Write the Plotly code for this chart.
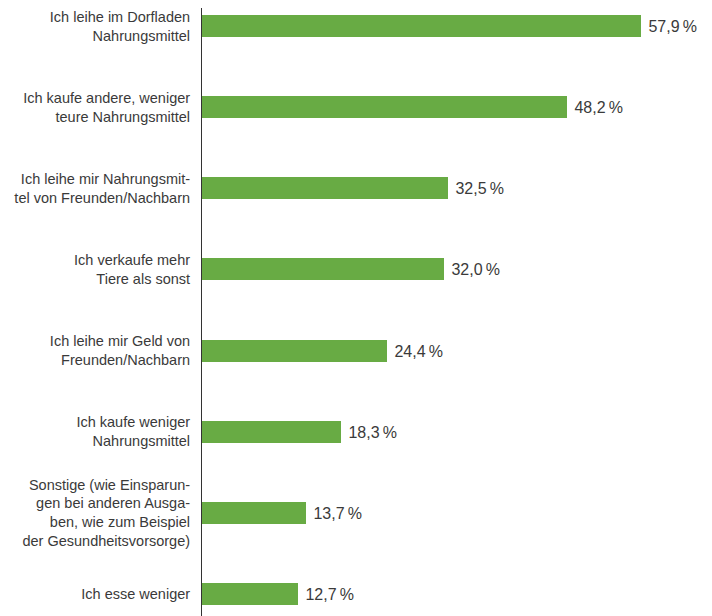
import plotly.graph_objects as go

labels = [
    "Ich leihe im Dorfladen<br>Nahrungsmittel",
    "Ich kaufe andere, weniger<br>teure Nahrungsmittel",
    "Ich leihe mir Nahrungsmit-<br>tel von Freunden/Nachbarn",
    "Ich verkaufe mehr<br>Tiere als sonst",
    "Ich leihe mir Geld von<br>Freunden/Nachbarn",
    "Ich kaufe weniger<br>Nahrungsmittel",
    "Sonstige (wie Einsparun-<br>gen bei anderen Ausga-<br>ben, wie zum Beispiel<br>der Gesundheitsvorsorge)",
    "Ich esse weniger",
]
values = [57.9, 48.2, 32.5, 32.0, 24.4, 18.3, 13.7, 12.7]

positions = list(range(len(labels)))
texts = ["\u00a0" + f"{v:.1f}".replace(".", ",") + "\u2009%" for v in values]

fig = go.Figure()
fig.add_trace(go.Bar(
    x=values,
    y=positions,
    orientation="h",
    width=0.27,
    marker=dict(color="#68ab44", line=dict(width=0)),
    text=texts,
    textposition="outside",
    textfont=dict(size=16, color="#3a3a3a"),
    cliponaxis=False,
))

fig.update_layout(
    width=712,
    height=616,
    margin=dict(l=194, r=18, t=0, b=0),
    plot_bgcolor="white",
    paper_bgcolor="white",
    font=dict(family="Liberation Sans, Arial, sans-serif", size=14.5, color="#3a3a3a"),
    showlegend=False,
    bargap=0,
)
fig.update_xaxes(range=[0, 66], visible=False, showgrid=False, zeroline=False,
                 automargin=False)
fig.update_yaxes(
    tickvals=positions,
    ticktext=labels,
    range=[7.37, -0.222],
    automargin=False,
    ticklabeloverflow="allow",
    showgrid=False,
    zeroline=False,
    showline=True,
    linecolor="#333333",
    linewidth=1,
    ticks="outside",
    ticklen=8,
    tickcolor="white",
)

fig.write_html("out.html")
